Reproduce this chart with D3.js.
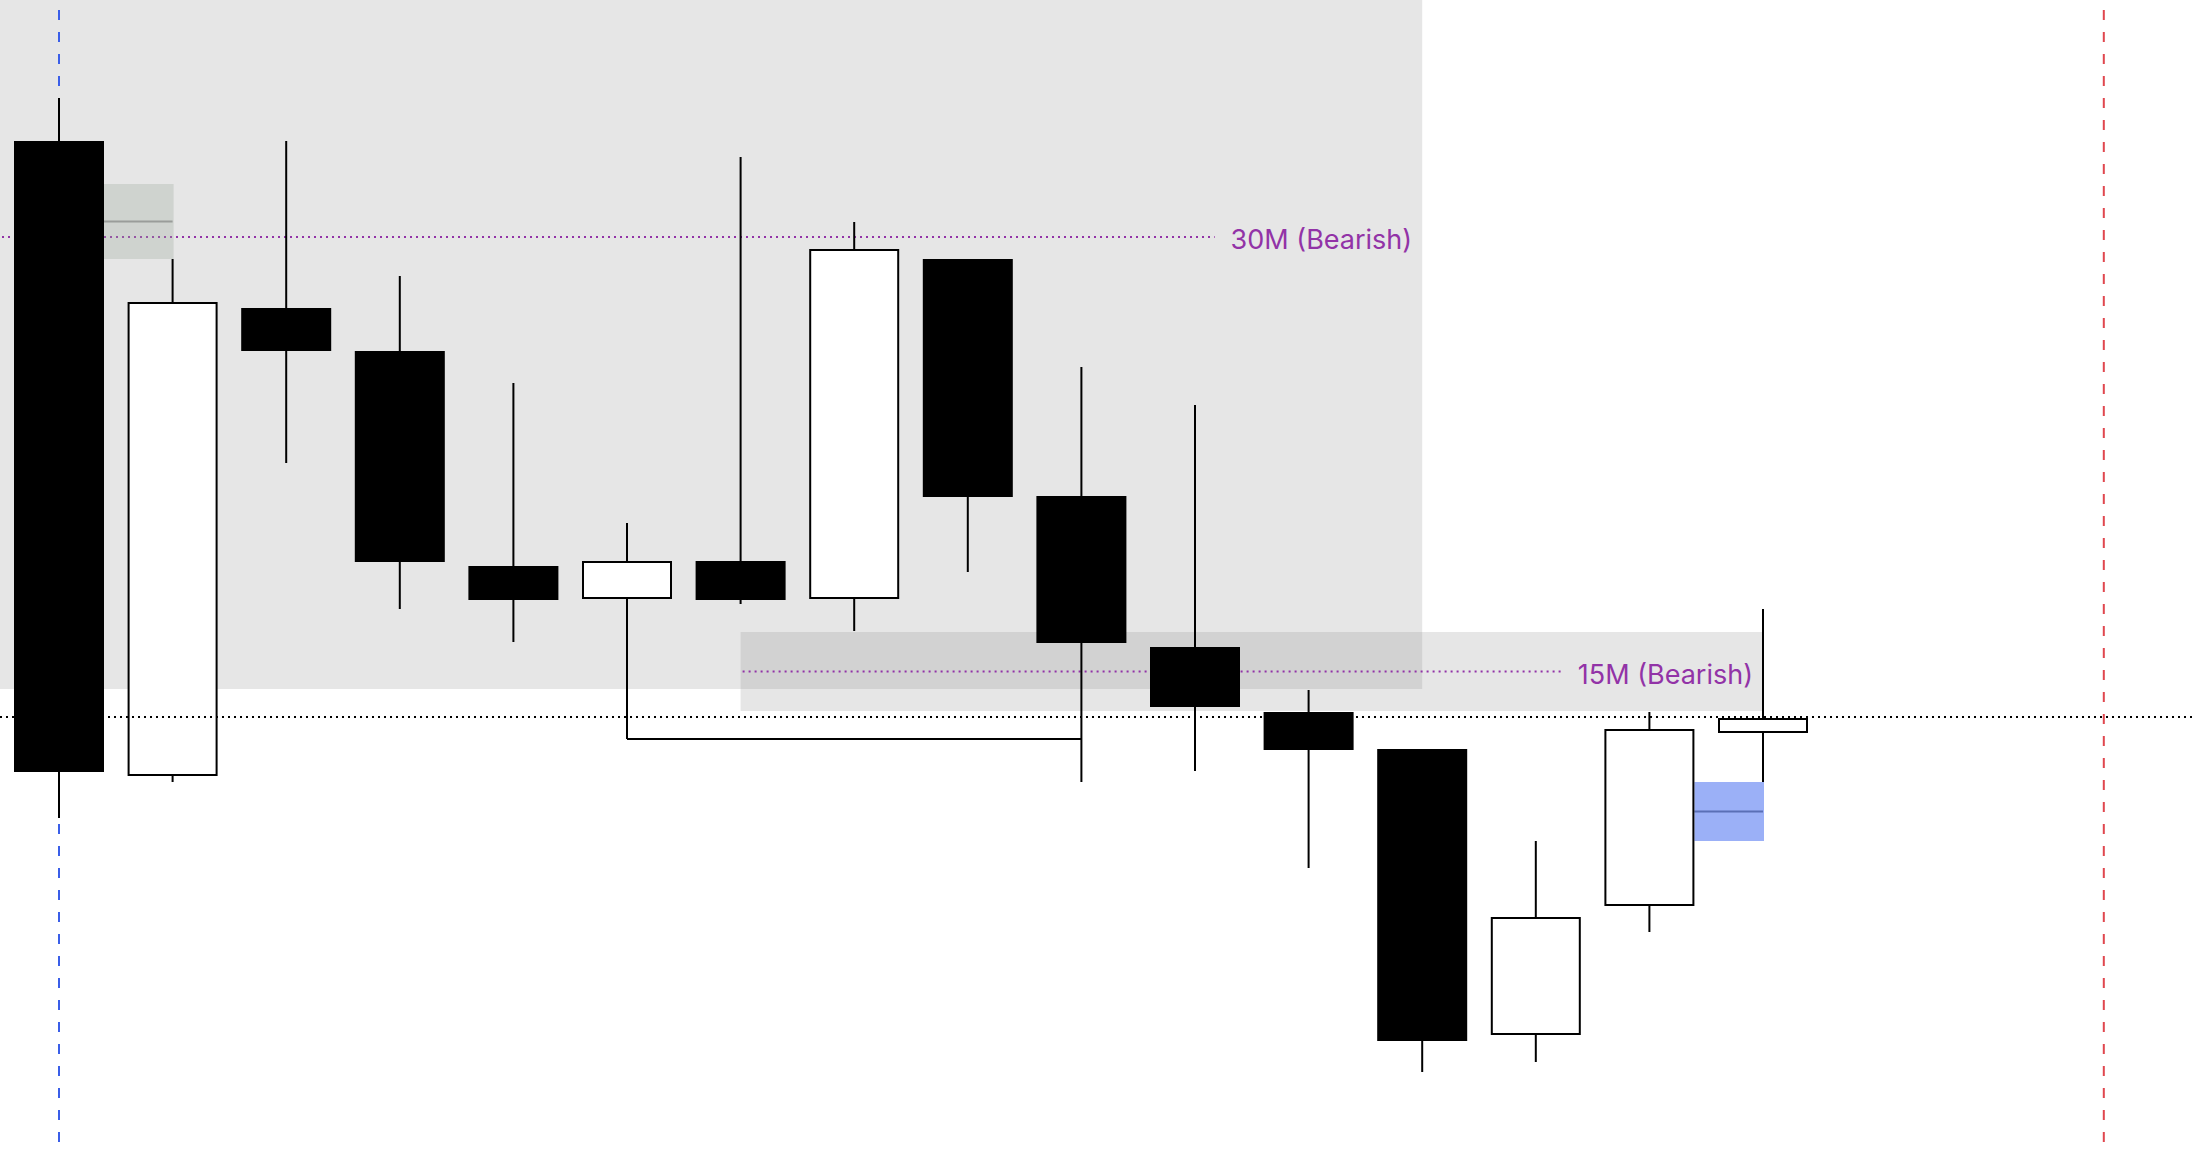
<!DOCTYPE html>
<html>
<head>
<meta charset="utf-8">
<script src="https://cdn.jsdelivr.net/npm/d3@7"></script>
<style>
  html, body { margin: 0; padding: 0; background: #ffffff; }
  svg { display: block; }
</style>
</head>
<body>
<svg id="chart" width="2194" height="1152"></svg>
<script>
// ---------- data ----------
const categories = ["C1","C2","C3","C4","C5","C6","C7","C8","C9","C10","C11","C12","C13","C14","C15","C16"];
const opens  = [1011, 377, 844, 801, 586, 554, 591, 554, 893, 656, 505, 440, 403, 118, 247, 420];
const highs  = [1054, 893, 1011, 876, 769, 629, 995, 930, 893, 785, 747, 462, 403, 311, 440, 543];
const lows   = [334, 370, 689, 543, 510, 413, 548, 521, 580, 370, 381, 284, 80, 90, 220, 370];
const closes = [380, 849, 801, 590, 552, 590, 552, 902, 655, 509, 445, 402, 111, 234, 422, 433];

// higher-timeframe zones
const zoneLabels = ["30M (Bearish)", "15M (Bearish)"];
const zoneStart  = [null, 6];      // null = chart left edge
const zoneEnd    = [12, 15];
const zoneTop    = [1152, 520];
const zoneBottom = [463, 441];
const zoneLevel  = [915, 480.5];

// fair value gaps
const gapStart  = [0, 14];
const gapEnd    = [1, 15];
const gapTop    = [968, 370];
const gapBottom = [893, 311];
const gapKind   = ["grey", "blue"];

const levelPrice = 435;            // dotted horizontal level
const sweepFrom = 5, sweepTo = 9;  // equal-low bracket
const sessionStartIdx = 0, sessionEndIdx = 18;

// ---------- scales ----------
const W = 2194, H = 1152;
const svg = d3.select("#chart");
const x = d3.scaleLinear().domain([0, 15]).range([59, 1763]);
const bw = 90;
const y = d3.scaleLinear().domain([0, 1152]).range([1152, 0]);

const candles = categories.map((c, i) => ({
  c, i, o: opens[i], h: highs[i], l: lows[i], cl: closes[i], up: closes[i] >= opens[i]
}));

// ---------- zones ----------
const zones = zoneLabels.map((lab, k) => ({
  lab,
  x0: zoneStart[k] === null ? 0 : x(zoneStart[k]),
  x1: x(zoneEnd[k]),
  y0: y(zoneTop[k]), y1: y(zoneBottom[k]), lvl: y(zoneLevel[k])
}));

svg.append("g").selectAll("rect").data(zones).join("rect")
  .attr("x", d => d.x0).attr("y", d => d.y0)
  .attr("width", d => d.x1 - d.x0).attr("height", d => d.y1 - d.y0)
  .attr("fill", "rgb(130,130,130)").attr("fill-opacity", 0.2);

// labels + dotted level lines
const zl = svg.append("g");
zones.forEach(d => {
  const t = zl.append("text")
    .attr("x", d.x1 - 10).attr("y", d.lvl + 12)
    .attr("text-anchor", "end")
    .attr("font-family", "Inter, 'Noto Sans', sans-serif")
    .attr("font-size", 27)
    .attr("fill", "#9233a7")
    .text(d.lab);
  const tw = t.node().getComputedTextLength();
  zl.insert("line", "text")
    .attr("x1", d.x0 + 2).attr("x2", d.x1 - 10 - tw - 16)
    .attr("y1", d.lvl).attr("y2", d.lvl)
    .attr("stroke", "#9233a7").attr("stroke-width", 2)
    .attr("stroke-dasharray", "2,4");
});

// ---------- vertical session lines ----------
svg.append("line")
  .attr("x1", x(sessionStartIdx)).attr("x2", x(sessionStartIdx))
  .attr("y1", 10).attr("y2", H)
  .attr("stroke", "#3a5ee8").attr("stroke-width", 2).attr("stroke-dasharray", "10,12");
svg.append("line")
  .attr("x1", x(sessionEndIdx)).attr("x2", x(sessionEndIdx))
  .attr("y1", 10).attr("y2", H)
  .attr("stroke", "#e0474e").attr("stroke-width", 2).attr("stroke-dasharray", "10,12");

// ---------- fair value gaps ----------
const gaps = gapStart.map((s, k) => ({
  x0: x(s) + bw / 2, x1: x(gapEnd[k]) + 1,
  y0: y(gapTop[k]), y1: y(gapBottom[k]), kind: gapKind[k]
}));
const gg = svg.append("g");
gg.selectAll("rect").data(gaps).join("rect")
  .attr("x", d => d.x0).attr("y", d => d.y0)
  .attr("width", d => d.x1 - d.x0).attr("height", d => d.y1 - d.y0)
  .attr("fill", d => d.kind === "blue" ? "#9bb0f7" : "rgb(157,170,157)")
  .attr("fill-opacity", d => d.kind === "blue" ? 1 : 0.3);
gg.selectAll("line").data(gaps).join("line")
  .attr("x1", d => d.x0).attr("x2", d => d.x1 - 1)
  .attr("y1", d => (d.y0 + d.y1) / 2).attr("y2", d => (d.y0 + d.y1) / 2)
  .attr("stroke", d => d.kind === "blue" ? "#5a6fb6" : "#9a9d9a")
  .attr("stroke-width", 2);

// ---------- sweep bracket ----------
svg.append("path")
  .attr("d", `M${x(sweepFrom)},${y(lows[sweepFrom])}H${x(sweepTo)}`)
  .attr("fill", "none").attr("stroke", "#000").attr("stroke-width", 2);

// ---------- candles ----------
const cg = svg.append("g");
cg.selectAll("line").data(candles).join("line")
  .attr("x1", d => x(d.i)).attr("x2", d => x(d.i))
  .attr("y1", d => y(d.h)).attr("y2", d => y(d.l))
  .attr("stroke", "#000").attr("stroke-width", 2);
cg.selectAll("rect").data(candles).join("rect")
  .attr("x", d => d.up ? x(d.i) - bw / 2 + 1 : x(d.i) - bw / 2)
  .attr("width", d => d.up ? bw - 2 : bw)
  .attr("y", d => y(Math.max(d.o, d.cl)))
  .attr("height", d => Math.max(1, Math.abs(y(d.o) - y(d.cl))))
  .attr("fill", d => d.up ? "#ffffff" : "#000000")
  .attr("stroke", d => d.up ? "#000" : "none")
  .attr("stroke-width", 2);

// ---------- horizontal level ----------
svg.append("line")
  .attr("x1", 0).attr("x2", W)
  .attr("y1", y(levelPrice)).attr("y2", y(levelPrice))
  .attr("stroke", "#000").attr("stroke-width", 2).attr("stroke-dasharray", "2,4");
</script>
</body>
</html>
